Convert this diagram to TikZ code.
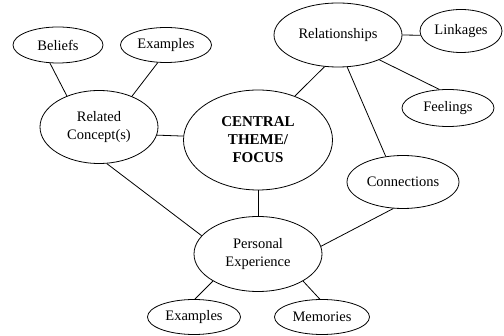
\documentclass[tikz,border=0pt]{standalone}
\usepackage{fontspec}
\setmainfont{Liberation Serif}
\usetikzlibrary{shapes.geometric}
\begin{document}
\begin{tikzpicture}[x=1pt,y=-1pt,line width=0.8pt]
\tikzstyle{every node}+=[inner sep=0pt]
\tikzstyle{bubble}=[draw=black,ellipse,align=center,font=\fontsize{14.5}{18}\selectfont]
\useasboundingbox (0,0) rectangle (504,336);
\node [bubble,minimum width=90,minimum height=36] (beliefs) at (58,45) {Beliefs};
\node [bubble,minimum width=91,minimum height=35] (examplestop) at (166,45) {Examples};
\node [bubble,minimum width=118,minimum height=73] (related) at (99,127) {Related\\Concept(s)};
\node [bubble,minimum width=149,minimum height=100,font=\fontsize{15}{18}\selectfont\bfseries] (central) at (258,140) {CENTRAL\\THEME/\\FOCUS};
\node [bubble,minimum width=128,minimum height=64] (relations) at (338,35) {Relationships};
\node [bubble,minimum width=82,minimum height=43] (linkages) at (461,31) {Linkages};
\node [bubble,minimum width=92,minimum height=37] (feelings) at (448,108) {Feelings};
\node [bubble,minimum width=112,minimum height=53] (connections) at (403,182) {Connections};
\node [bubble,minimum width=128,minimum height=75] (personal) at (258,254) {Personal\\Experience};
\node [bubble,minimum width=93,minimum height=35] (examplesbot) at (194,317) {Examples};
\node [bubble,minimum width=95,minimum height=35] (memories) at (322,317) {Memories};
% links
\draw (beliefs.246) -- (related.136);
\draw (examplestop.245) -- (related.43);
\draw (related.352) -- (central.177);
\draw (related.282) -- (personal.162);
\draw (central.50) -- (relations.247);
\draw (central) -- (personal);
\draw (relations.east) -- (linkages.186);
\draw (relations.329) -- (feelings.115);
\draw (relations.286) -- (connections.124);
\draw (connections.250) -- (personal.7);
\draw (personal.211) -- (examplesbot.87);
\draw (personal.329) -- (memories.97);
\end{tikzpicture}
\end{document}
